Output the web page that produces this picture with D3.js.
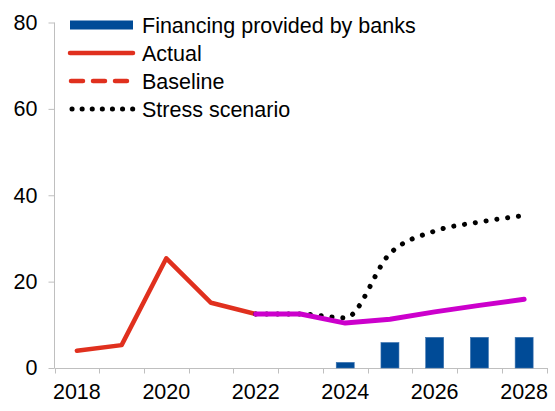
<!DOCTYPE html>
<html><head><meta charset="utf-8">
<script src="https://cdn.jsdelivr.net/npm/d3@7"></script>
<style>body{margin:0;background:#fff}svg{display:block}text{font-family:"Liberation Sans",Arial,sans-serif;fill:#000}</style>
</head><body>
<svg id="c" width="555" height="411"></svg>
<script>
const years = [2018,2019,2020,2021,2022,2023,2024,2025,2026,2027,2028];
const xTickLabels = [2018,2020,2022,2024,2026,2028];
const yTicks = [0,20,40,60,80];
const bankFinancing = [null,null,null,null,null,null,1.3,5.9,7.1,7.1,7.1];
const actual = [4.0,5.3,25.4,15.1,12.5,null,null,null,null,null,null];
const baseline = [null,null,null,null,12.5,12.5,10.4,11.3,13.0,14.5,15.9];
const stress = [null,null,null,null,12.5,12.5,11.6,26.5,31.7,33.8,35.3];
const legendLabels = ["Financing provided by banks","Actual","Baseline","Stress scenario"];

const svg = d3.select("#c");
const x = d3.scaleBand().domain(years).range([54.5,546.5]).paddingInner(0).paddingOuter(0);
const y = d3.scaleLinear().domain([0,80]).range([368,22.5]);
const axisColor = "#BFBFBF";
const cx = d => x(d) + x.bandwidth()/2;
const fs = 21.5;

// axes
const gy = svg.append("g").attr("transform","translate(54.5,0)")
  .call(d3.axisLeft(y).tickValues(yTicks).tickSize(6).tickPadding(11));
gy.select(".domain").attr("stroke",axisColor).attr("d",`M0,${y(80)}V${y(0)}`);
gy.selectAll(".tick line").attr("stroke",axisColor);
gy.selectAll(".tick text").attr("font-size",fs).attr("font-family","Liberation Sans, Arial, sans-serif");

const gx = svg.append("g").attr("transform",`translate(0,${y(0)+0.5})`);
gx.append("line").attr("x1",54.5).attr("x2",548).attr("stroke",axisColor);
const bounds = years.map(d=>x(d)).concat([x(2028)+x.bandwidth()]);
gx.selectAll("line.t").data(bounds).enter().append("line").attr("class","t")
  .attr("x1",d=>Math.round(d)+0.5).attr("x2",d=>Math.round(d)+0.5).attr("y1",0).attr("y2",5).attr("stroke",axisColor);
gx.selectAll("text").data(xTickLabels).enter().append("text")
  .attr("x",d=>cx(d)).attr("y",30).attr("text-anchor","middle").attr("font-size",fs).text(d=>d);

// bars
const bw = 18;
svg.append("g").selectAll("rect").data(years.map((d,i)=>({yr:d,v:bankFinancing[i]})).filter(d=>d.v!=null))
  .enter().append("rect")
  .attr("x",d=>cx(d.yr)-bw/2).attr("width",bw)
  .attr("y",d=>y(d.v)).attr("height",d=>y(0)-y(d.v))
  .attr("fill","#004B97").attr("stroke","#3a72b0").attr("stroke-width",0.6);

const mk = (arr,curve) => d3.line().defined(d=>d.v!=null).x(d=>cx(d.yr)).y(d=>y(d.v)).curve(curve)(years.map((yr,i)=>({yr,v:arr[i]})));

svg.append("path").attr("d",mk(actual,d3.curveLinear)).attr("fill","none").attr("stroke","#E0301E").attr("stroke-width",4.5).attr("stroke-linejoin","round").attr("stroke-linecap","round");
svg.append("path").attr("d",mk(stress,d3.curveMonotoneX)).attr("fill","none").attr("stroke","#000").attr("stroke-width",5).attr("stroke-dasharray","0.1 10.8").attr("stroke-linecap","round");
svg.append("path").attr("d",mk(baseline,d3.curveLinear)).attr("fill","none").attr("stroke","#CC00CC").attr("stroke-width",5).attr("stroke-linejoin","round").attr("stroke-linecap","round");

// legend
const lg = svg.append("g");
const rowY = [25,53,81,109];
const lx1 = 70, lx2 = 133;
lg.append("rect").attr("x",lx1).attr("y",rowY[0]-4.5).attr("width",lx2-lx1).attr("height",9).attr("fill","#004B97");
lg.append("line").attr("x1",lx1).attr("x2",lx2).attr("y1",rowY[1]).attr("y2",rowY[1]).attr("stroke","#E0301E").attr("stroke-width",4.5).attr("stroke-linecap","round");
lg.append("line").attr("x1",lx1+1).attr("x2",lx2).attr("y1",rowY[2]).attr("y2",rowY[2]).attr("stroke","#E0301E").attr("stroke-width",4.5).attr("stroke-dasharray","12 10").attr("stroke-linecap","round");
lg.append("line").attr("x1",lx1+2).attr("x2",lx2).attr("y1",rowY[3]).attr("y2",rowY[3]).attr("stroke","#000").attr("stroke-width",5).attr("stroke-dasharray","0.1 10").attr("stroke-linecap","round");
lg.selectAll("text").data(legendLabels).enter().append("text")
  .attr("x",142).attr("y",(d,i)=>rowY[i]).attr("dy","0.36em").attr("font-size",fs).text(d=>d);
</script>
</body></html>
